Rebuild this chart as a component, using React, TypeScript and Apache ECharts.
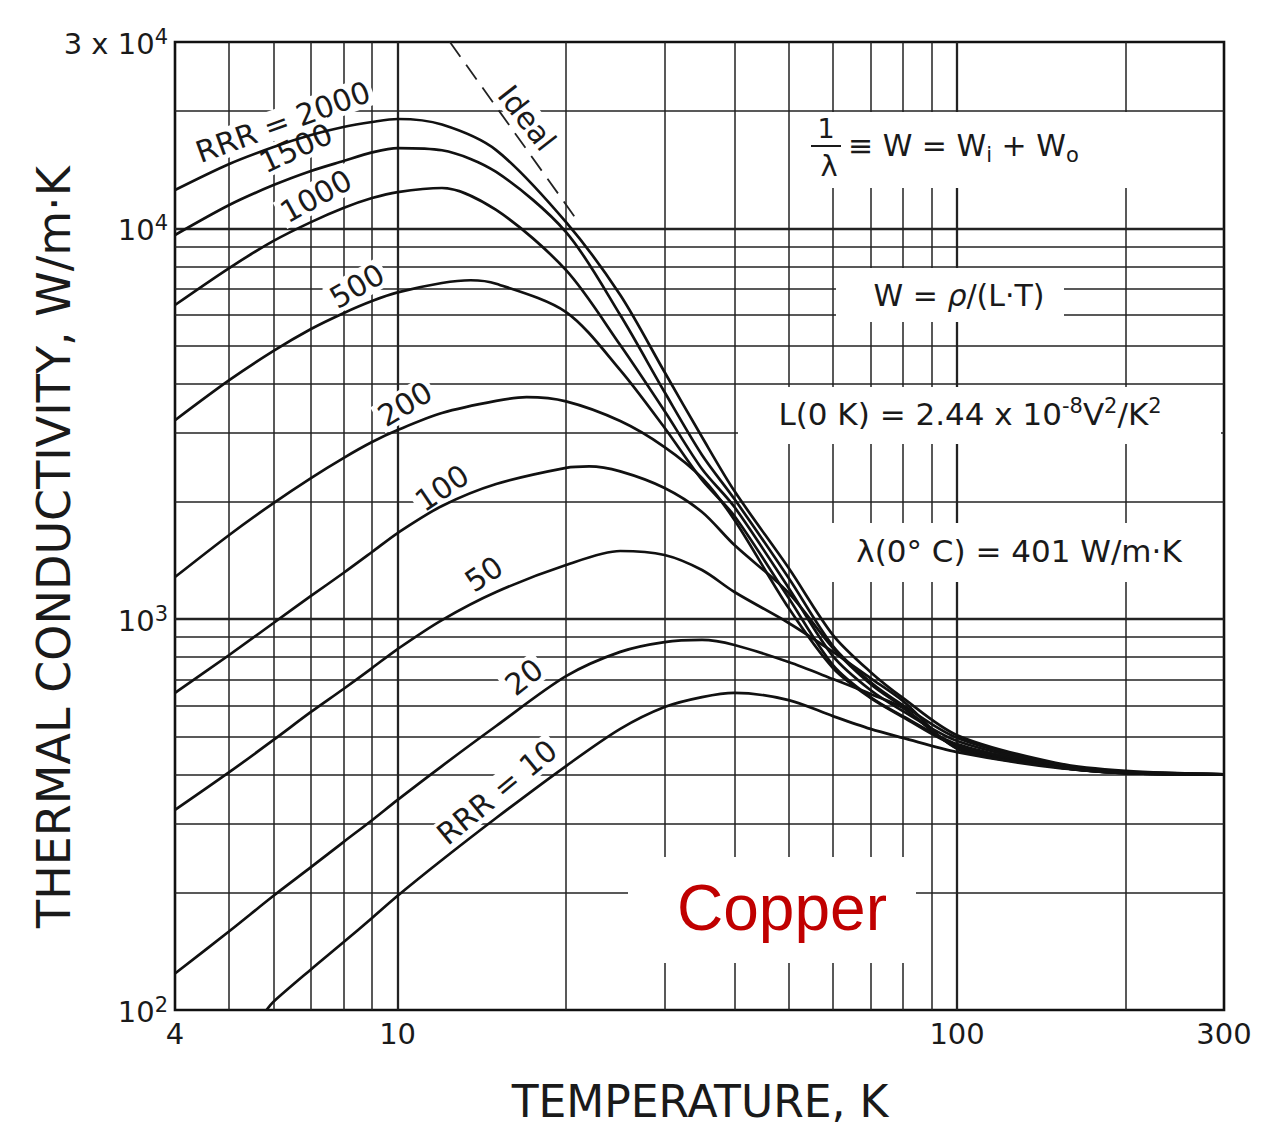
import React, { useEffect, useRef } from 'react';
import * as echarts from 'echarts';

// ---- data (T in K, k in W/m·K) ----
const TEMPS = [4, 5, 6, 7, 8, 9, 10, 12, 15, 20, 25, 30, 35, 40, 50, 60, 70, 80, 100, 150, 200, 300];
const K_RRR_2000 = [12540, 14620, 16160, 17340, 18180, 18720, 19060, 18450, 15870, 10380, 6755, 4291, 2926, 2128, 1352, 911, 733, 629, 505, 429, 409, 401];
const K_RRR_1500 = [9620, 11480, 12910, 14030, 14880, 15650, 16060, 15850, 13950, 9790, 6003, 3814, 2632, 2030, 1275, 854, 691, 603, 497, 426, 406, 401];
const K_RRR_1000 = [6370, 7920, 9290, 10380, 11280, 11960, 12390, 12690, 11150, 7820, 5030, 3410, 2423, 1937, 1202, 805, 659, 582, 488, 424, 406, 401];
const TEMPS_RRR_500 = [4, 5, 6, 7, 8, 9, 10, 12, 13.5, 15, 20, 25, 30, 35, 40, 50, 60, 70, 80, 100, 150, 200, 300];
const K_RRR_500 = [3230, 4090, 4860, 5530, 6070, 6520, 6860, 7250, 7370, 7220, 6110, 4340, 3090, 2271, 1837, 1133, 763, 632, 565, 479, 421, 404, 401];
const TEMPS_RRR_200 = [4, 5, 6, 7, 8, 9, 10, 12, 15, 17, 20, 25, 30, 35, 40, 50, 60, 70, 80, 100, 150, 200, 300];
const K_RRR_200 = [1282, 1643, 1983, 2298, 2585, 2841, 3049, 3370, 3620, 3700, 3610, 3215, 2758, 2298, 1794, 1068, 750, 629, 562, 474, 419, 404, 401];
const TEMPS_RRR_100 = [4, 5, 6, 7, 8, 9, 10, 12, 15, 20, 22, 25, 30, 35, 40, 50, 60, 70, 80, 100, 150, 200, 300];
const K_RRR_100 = [648, 810, 978, 1147, 1313, 1486, 1662, 1949, 2218, 2440, 2462, 2390, 2167, 1881, 1548, 1167, 844, 683, 596, 471, 419, 404, 401];
const K_RRR_50 = [325, 406, 491, 579, 663, 750, 839, 995, 1174, 1376, 1495, 1460, 1336, 1174, 978, 825, 707, 618, 468, 419, 404, 401];
const TEMPS_RRR_20 = [4, 5, 6, 7, 8, 9, 10, 12, 15, 20, 25, 30, 35, 40, 50, 60, 70, 80, 100, 115];
const K_RRR_20 = [124, 159, 196, 232, 269, 306, 345, 421, 533, 715, 825, 874, 885, 859, 777, 703, 644, 593, 466, 444];
const TEMPS_RRR_10 = [5.83, 6, 7, 8, 9, 10, 12, 15, 20, 25, 30, 35, 40, 50, 60, 70, 80, 100, 150, 200, 300];
const K_RRR_10 = [100, 105, 127, 149, 172, 196, 242, 310, 421, 524, 596, 632, 648, 621, 565, 524, 497, 457, 417, 406, 401];
const IDEAL_T = [12.4, 20.8];
const IDEAL_K = [30000, 10630];

const X_TICKS = [4, 10, 100, 300];
const X_TICK_LABELS = ['4', '10', '100', '300'];
const Y_TICKS = [100, 1000, 10000, 30000];
const Y_TICK_BASE = ['10', '10', '10', '3 x 10'];
const Y_TICK_EXP = ['2', '3', '4', '4'];
const GRID_T = [5, 6, 7, 8, 9, 10, 20, 30, 40, 50, 60, 70, 80, 90, 100, 200];
const GRID_K = [200, 300, 400, 500, 600, 700, 800, 900, 1000, 2000, 3000, 4000, 5000, 6000, 7000, 8000, 9000, 10000, 20000];

const FONT = '"DejaVu Sans", sans-serif';
const INK = '#1a1a1a';

export default function App() {
  const ref = useRef<HTMLDivElement | null>(null);

  useEffect(() => {
    document.body.style.margin = '0';
    const chart = echarts.init(ref.current as HTMLDivElement, null, { renderer: 'svg' });

    const curves = [
      { name: 'RRR = 2000', t: TEMPS, k: K_RRR_2000 },
      { name: 'RRR = 1500', t: TEMPS, k: K_RRR_1500 },
      { name: 'RRR = 1000', t: TEMPS, k: K_RRR_1000 },
      { name: 'RRR = 500', t: TEMPS_RRR_500, k: K_RRR_500 },
      { name: 'RRR = 200', t: TEMPS_RRR_200, k: K_RRR_200 },
      { name: 'RRR = 100', t: TEMPS_RRR_100, k: K_RRR_100 },
      { name: 'RRR = 50', t: TEMPS, k: K_RRR_50 },
      { name: 'RRR = 20', t: TEMPS_RRR_20, k: K_RRR_20 },
      { name: 'RRR = 10', t: TEMPS_RRR_10, k: K_RRR_10 },
    ];

    const isDecade = (v: number) => Math.abs(Math.log10(v) - Math.round(Math.log10(v))) < 1e-9;

    const series: any[] = [
      {
        type: 'line',
        name: 'grid',
        data: [],
        silent: true,
        z: 1,
        markLine: {
          z: 1,
          silent: true,
          animation: false,
          symbol: ['none', 'none'],
          label: { show: false },
          emphasis: { disabled: true },
          lineStyle: { color: '#222', width: 1.5, type: 'solid' },
          data: [
            ...GRID_T.map((t) => ({ xAxis: t, lineStyle: { color: '#222', type: 'solid', width: isDecade(t) ? 2.3 : 1.5 } })),
            ...GRID_K.map((k) => ({ yAxis: k, lineStyle: { color: '#222', type: 'solid', width: isDecade(k) ? 2.3 : 1.5 } })),
          ],
        },
      },
      ...curves.map((c) => ({
        type: 'line',
        name: c.name,
        data: c.t.map((t, i) => [t, c.k[i]]),
        smooth: 0.3,
        symbol: 'none',
        showSymbol: false,
        silent: true,
        z: 6,
        lineStyle: { color: '#111', width: 2.7 },
      })),
      {
        type: 'line',
        name: 'Ideal',
        data: IDEAL_T.map((t, i) => [t, IDEAL_K[i]]),
        symbol: 'none',
        showSymbol: false,
        silent: true,
        z: 6,
        lineStyle: { color: '#222', width: 1.8, type: [18, 10] },
      },
    ];

    chart.setOption({
      animation: false,
      grid: { left: 175, top: 42, right: 56, bottom: 122, show: true, borderColor: '#111', borderWidth: 2.6 },
      xAxis: { type: 'log', logBase: 10, min: 4, max: 300, show: false },
      yAxis: { type: 'log', logBase: 10, min: 100, max: 30000, show: false },
      series,
    });

    const px = (t: number, k: number) => chart.convertToPixel({ gridIndex: 0 }, [t, k]) as number[];
    const deg = (d: number) => (d * Math.PI) / 180;

    const text = (x: number, y: number, str: string, size: number, extra: any = {}) => ({
      type: 'text',
      x,
      y,
      z: extra.z ?? 7,
      rotation: extra.rotation ?? 0,
      silent: true,
      style: {
        text: str,
        fontSize: size,
        fontFamily: extra.fontFamily ?? FONT,
        fill: extra.fill ?? INK,
        align: extra.align ?? 'center',
        textAlign: extra.align ?? 'center',
        verticalAlign: 'middle',
        textVerticalAlign: 'middle',
        ...(extra.style || {}),
      },
    });

    const rect = (x: number, y: number, w: number, h: number) => ({
      type: 'rect',
      z: 3,
      silent: true,
      shape: { x, y, width: w, height: h },
      style: { fill: '#fff' },
    });

    const g: any[] = [];
    // white boxes behind annotations
    g.push(rect(800, 112, 421, 76));
    g.push(rect(836, 268, 228, 54));
    g.push(rect(738, 387, 483, 57));
    g.push(rect(800, 523, 421, 59));
    g.push(rect(628, 857, 288, 106));

    // curve labels
    const lbl = (x: number, y: number, s: string, a: number) =>
      text(x, y, s, 30, { z: 4, rotation: deg(a), style: { backgroundColor: '#fff', padding: [0, 3] } });
    g.push(lbl(283, 122, 'RRR = 2000', 20));
    g.push(lbl(296, 148, '1500', 25));
    g.push(lbl(316, 196, '1000', 29));
    g.push(lbl(357, 286, '500', 30));
    g.push(lbl(405, 404, '200', 31));
    g.push(lbl(442, 488, '100', 34));
    g.push(lbl(484, 574, '50', 34));
    g.push(lbl(524, 677, '20', 38));
    g.push(lbl(497, 792, 'RRR = 10', 39.5));
    g.push(lbl(527, 118, 'Ideal', -52));

    // tick labels
    X_TICKS.forEach((t, i) => {
      const p = px(t, 100);
      g.push(text(p[0], 1034, X_TICK_LABELS[i], 29));
    });
    Y_TICKS.forEach((k, i) => {
      const p = px(4, k);
      g.push(
        text(168, p[1] + 2, `{b|${Y_TICK_BASE[i]}}{s|${Y_TICK_EXP[i]}}`, 29, {
          align: 'right',
          style: {
            rich: {
              b: { fontSize: 29, fontFamily: FONT, lineHeight: 36 },
              s: { fontSize: 21, fontFamily: FONT, lineHeight: 21, verticalAlign: 'top' },
            },
          },
        })
      );
    });

    // axis titles
    g.push(text(700, 1101, 'TEMPERATURE, K', 44));
    g.push(text(54, 547, 'THERMAL CONDUCTIVITY, W/m·K', 46, { rotation: Math.PI / 2 }));

    // formulas
    g.push(text(826, 128, '1', 27));
    g.push({ type: 'line', z: 7, silent: true, shape: { x1: 811, y1: 146, x2: 841, y2: 146 }, style: { stroke: INK, lineWidth: 2 } });
    g.push(text(829, 166, 'λ', 29));
    g.push(
      text(848, 145, '{m|≡ W = W}{s|i}{m| + W}{s|o}', 30, {
        align: 'left',
        style: {
          rich: {
            m: { fontSize: 30, fontFamily: FONT, lineHeight: 40 },
            s: { fontSize: 21, fontFamily: FONT, lineHeight: 21, verticalAlign: 'bottom' },
          },
        },
      })
    );
    g.push(
      text(959, 295, '{a|W = }{r|ρ}{a|/(L·T)}', 30, {
        style: {
          rich: {
            a: { fontSize: 30, fontFamily: FONT },
            r: { fontSize: 30, fontFamily: FONT, fontStyle: 'italic' },
          },
        },
      })
    );
    g.push(
      text(970, 414, '{a|L(0 K) = 2.44 x 10}{s|-8}{a|V}{s|2}{a|/K}{s|2}', 31, {
        style: {
          rich: {
            a: { fontSize: 31, fontFamily: FONT, lineHeight: 38 },
            s: { fontSize: 21, fontFamily: FONT, lineHeight: 21, verticalAlign: 'top' },
          },
        },
      })
    );
    g.push(text(1019, 551, 'λ(0° C) = 401 W/m·K', 31));

    // material label
    g.push(text(782, 908, 'Copper', 64, { fill: '#c00000', fontFamily: '"Liberation Sans", Arial, sans-serif' }));

    chart.setOption({ graphic: { elements: g } });

    return () => {
      chart.dispose();
    };
  }, []);

  return <div ref={ref} style={{ width: 1280, height: 1132, background: '#fff' }} />;
}
